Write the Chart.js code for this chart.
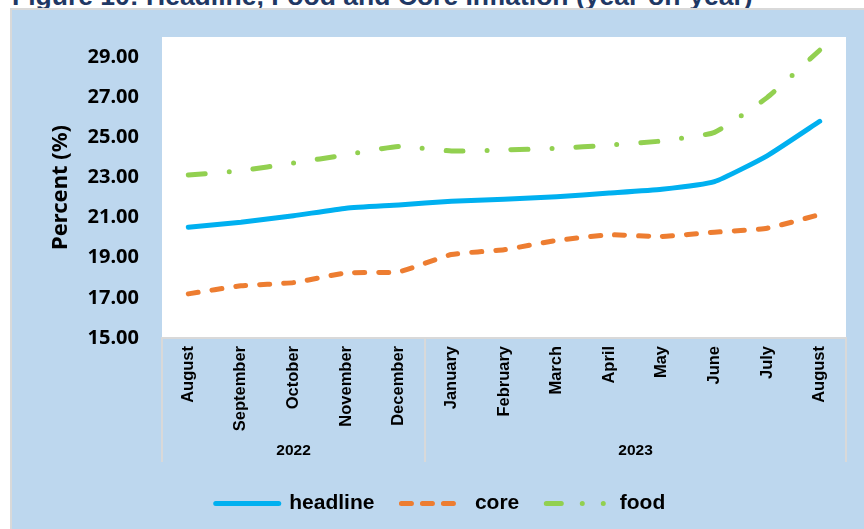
<!DOCTYPE html>
<html>
<head>
<meta charset="utf-8">
<script src="https://cdn.jsdelivr.net/npm/chart.js@4.4.0/dist/chart.umd.min.js"></script>
<style>
    body { margin: 0; width: 864px; height: 529px; overflow: hidden; background: #fff; position: relative; }
    #title { position: absolute; left: 12px; top: -19px; font: bold 26.5px "Liberation Sans", Arial, sans-serif; color: #1F3864; white-space: nowrap; }
    #panel { position: absolute; left: 10px; top: 8px; right: 0; bottom: 0; background: #BDD7EE; border-left: 2px solid #d9d9d9; border-top: 2px solid #d9d9d9; }
    #wrap { position: absolute; left: 0; top: 0; width: 864px; height: 529px; }
</style>
</head>
<body>
<div id="title">Figure 10: Headline, Food and Core Inflation (year-on-year)</div>
<div id="panel"></div>
<div id="wrap"><canvas id="myChart"></canvas></div>
<script>
const months = ['August', 'September', 'October', 'November', 'December', 'January', 'February',
    'March', 'April', 'May', 'June', 'July', 'August']
const yearLabels = ['2022', '2023']
const yearMonthCounts = [5, 8]

const headline = [20.52, 20.77, 21.09, 21.47, 21.63, 21.82, 21.91, 22.04, 22.22, 22.41, 22.79, 24.08, 25.80]
const core = [17.20, 17.60, 17.76, 18.24, 18.30, 19.16, 19.40, 19.86, 20.14, 20.06, 20.27, 20.47, 21.15]
const food = [23.12, 23.34, 23.72, 24.13, 24.55, 24.32, 24.37, 24.45, 24.61, 24.82, 25.25, 26.98, 29.34]

const yTicks = [15, 17, 19, 21, 23, 25, 27, 29]

// white plot area on the blue panel
const plotBackground = {
    id: 'plotBackground',
    beforeDraw(chart) {
        const { ctx, chartArea: a } = chart
        ctx.save()
        ctx.fillStyle = '#ffffff'
        ctx.fillRect(a.left, a.top, a.right - a.left, a.bottom - a.top)
        ctx.restore()
    }
}

// second level of the category axis: year dividers and year labels
const yearGroups = {
    id: 'yearGroups',
    afterDraw(chart) {
        const { ctx, chartArea: a } = chart
        const x = chart.scales.x
        const bottom = a.bottom + 124
        let edges = [a.left]
        let start = 0
        yearMonthCounts.forEach((n, i) => {
            let end = start + n
            if (i < yearMonthCounts.length - 1) {
                edges.push((x.getPixelForValue(end - 1) + x.getPixelForValue(end)) / 2)
            }
            start = end
        })
        edges.push(a.right)

        ctx.save()
        ctx.strokeStyle = '#d9d9d9'
        ctx.lineWidth = 2
        edges.forEach(px => {
            ctx.beginPath()
            ctx.moveTo(px, a.bottom)
            ctx.lineTo(px, bottom)
            ctx.stroke()
        })
        ctx.fillStyle = '#000'
        ctx.font = 'bold 15.5px "Liberation Sans", Arial, sans-serif'
        ctx.textAlign = 'center'
        ctx.textBaseline = 'middle'
        yearLabels.forEach((label, i) => {
            ctx.fillText(label, (edges[i] + edges[i + 1]) / 2, a.bottom + 113)
        })
        ctx.restore()
    }
}

let ctx = document.getElementById('myChart').getContext('2d')

const data = {
    labels: months,
    datasets: [{
        label: 'headline',
        data: headline,
        borderColor: '#00B0F0',
        backgroundColor: '#00B0F0',
        borderWidth: 5,
        legendDash: [],
    }, {
        label: 'core',
        data: core,
        borderColor: '#ED7D31',
        backgroundColor: '#ED7D31',
        borderWidth: 5,
        borderDash: [10, 14],
        legendDash: [10, 11],
    }, {
        label: 'food',
        data: food,
        borderColor: '#92D050',
        backgroundColor: '#92D050',
        borderWidth: 5,
        borderDash: [17, 24, 0, 24],
        legendDash: [15, 21, 0, 21, 0, 100],
    }]
}

const config = {
    type: 'line',
    data: data,
    options: {
        responsive: false,
        animation: false,
        layout: {
            padding: { top: 37, right: 18, left: 35, bottom: 5 }
        },
        elements: {
            line: {
                tension: 0.15,
                borderCapStyle: 'round',
                borderJoinStyle: 'round'
            },
            point: {
                radius: 0
            }
        },
        plugins: {
            legend: {
                position: 'bottom',
                labels: {
                    usePointStyle: true,
                    pointStyle: 'line',
                    pointStyleWidth: 63,
                    padding: 27,
                    color: '#000',
                    font: { family: '"Liberation Sans", Arial, sans-serif', size: 21, weight: 'bold' },
                    generateLabels: chart => Chart.defaults.plugins.legend.labels.generateLabels(chart).map(item => {
                        const ds = chart.data.datasets[item.datasetIndex]
                        item.lineDash = ds.legendDash
                        item.lineWidth = 5
                        item.lineCap = 'round'
                        item.strokeStyle = ds.borderColor
                        return item
                    })
                }
            },
            tooltip: { enabled: false }
        },
        scales: {
            y: {
                min: 15,
                max: 30,
                afterBuildTicks: scale => {
                    scale.ticks = yTicks.map(v => ({ value: v }))
                },
                afterFit: scale => {
                    scale.width = 127
                },
                ticks: {
                    color: '#000',
                    padding: 23,
                    font: { family: '"Noto Sans", sans-serif', size: 20, weight: 'bold' },
                    callback: v => v.toFixed(2)
                },
                grid: { display: false, drawTicks: false },
                border: { display: false },
                title: {
                    display: true,
                    text: 'Percent (%)',
                    color: '#000',
                    padding: { top: 13, bottom: 0 },
                    font: { family: '"Noto Sans", sans-serif', size: 22, weight: 'bold' }
                }
            },
            x: {
                offset: true,
                afterFit: scale => {
                    scale.height = 128
                },
                ticks: {
                    color: '#000',
                    maxRotation: 90,
                    minRotation: 90,
                    autoSkip: false,
                    padding: 8,
                    font: { family: '"Liberation Sans", Arial, sans-serif', size: 16.5, weight: 'bold' }
                },
                grid: { display: false, drawTicks: false },
                border: { display: true, color: '#d9d9d9', width: 2 }
            }
        }
    },
    plugins: [plotBackground, yearGroups]
}

document.getElementById('myChart').width = 864
document.getElementById('myChart').height = 529
const myChart = new Chart(ctx, config)
</script>
</body>
</html>
